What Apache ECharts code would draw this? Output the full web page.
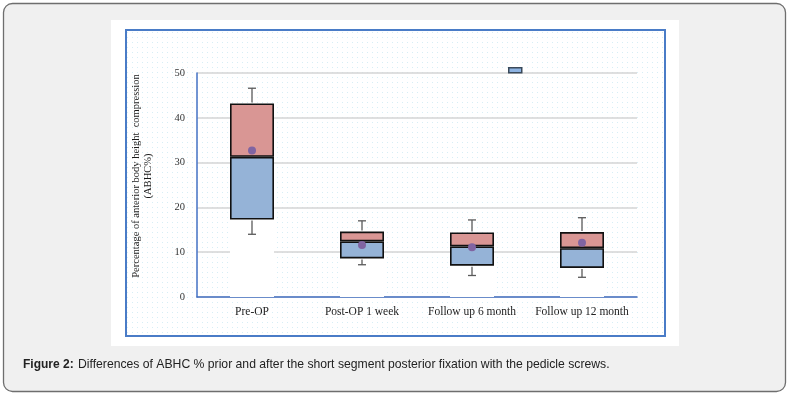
<!DOCTYPE html>
<html><head><meta charset="utf-8">
<script src="https://cdn.jsdelivr.net/npm/echarts@6/dist/echarts.min.js"></script>
<style>html,body{margin:0;padding:0;background:#fff}#c{width:790px;height:395px}</style>
</head><body><div id="c"></div>
<script>
const categories = ['Pre-OP', 'Post-OP 1 week', 'Follow up 6 month', 'Follow up 12 month'];
const minVals    = [14.0, 7.2, 4.8, 4.4];
const q1Vals     = [17.3, 8.6, 7.0, 6.5];
const medianVals = [31.3, 12.4, 11.3, 10.9];
const q3Vals     = [43.2, 14.6, 14.4, 14.5];
const maxVals    = [46.6, 17.0, 17.2, 17.7];
const meanVals   = [32.7, 11.6, 11.1, 12.1];
const yTicks = [0, 10, 20, 30, 40, 50];
const yTitle = 'Percentage of anterior body height  compression\n(ABHC%)';
const captionLabel = 'Figure 2:';
const caption = 'Differences of ABHC % prior and after the short segment posterior fixation with the pedicle screws.';

// dotted background pattern
const pc = document.createElement('canvas');
pc.width = 5; pc.height = 5;
const pctx = pc.getContext('2d');
pctx.fillStyle = '#ffffff'; pctx.fillRect(0,0,5,5);
pctx.fillStyle = '#d6eef6'; pctx.fillRect(2,2,1,1);

const chart = echarts.init(document.getElementById('c'));
const serif = '"Liberation Serif", "DejaVu Serif", serif';
const lowSeg = q1Vals.map((q,i)=>+(medianVals[i]-q).toFixed(2));
const upSeg = medianVals.map((m,i)=>+(q3Vals[i]-m).toFixed(2));

chart.setOption({
  animation: false,
  backgroundColor: '#ffffff',
  graphic: [
    {type:'rect', z:-100, shape:{x:3.5,y:3.5,width:782,height:388,r:9}, style:{fill:'#f0f0f0', stroke:'#6e6e6e', lineWidth:1.3}},
    {type:'rect', z:-99, shape:{x:111,y:20,width:568,height:326}, style:{fill:'#ffffff'}},
    {type:'rect', z:-98, shape:{x:126,y:30,width:539,height:306}, style:{fill:{image:pc, repeat:'repeat'}, stroke:'#4a7cc7', lineWidth:2}},
    {type:'text', x:142, y:176, rotation:Math.PI/2, z:10,
      style:{text:yTitle, font:'10.5px "Liberation Serif", serif', fill:'#1a1a1a', textAlign:'center', verticalAlign:'middle', lineHeight:12}},
    {type:'text', left:23, top:359, style:{text:captionLabel, font:'bold 12px "Liberation Sans", Arial, sans-serif', fill:'#222'}},
    {type:'text', left:78, top:359, style:{text:caption, font:'12.2px "Liberation Sans", Arial, sans-serif', fill:'#222'}}
  ],
  legend: {
    left: 503, top: 62, itemWidth: 13, itemHeight: 5, itemGap: 0,
    data: [{name:'Q1-Median', icon:'rect', itemStyle:{color:'#8db3e2', borderColor:'#3b4a5a', borderWidth:1.5}}],
    formatter: () => '', textStyle:{fontSize:1}
  },
  grid: {left:197, right:153, top:73, bottom:98},
  xAxis: {
    type:'category', data:categories,
    axisLine:{lineStyle:{color:'#4472c4', width:1.5}},
    axisTick:{show:false},
    axisLabel:{interval:0, fontFamily:serif, fontSize:11.5, color:'#222', margin:9},
    splitLine:{show:false}
  },
  yAxis: {
    type:'value', min:0, max:50, interval:10,
    axisLine:{show:true, lineStyle:{color:'#4472c4', width:1.5}},
    axisTick:{show:false},
    axisLabel:{fontFamily:serif, fontSize:10.5, color:'#333', margin:12, formatter:v=>yTicks.includes(v)?String(v):''},
    splitLine:{lineStyle:{color:'#d4d4d4', width:1.5}}
  },
  series: [
    {name:'base', type:'bar', stack:'b', barWidth:44, data:q1Vals, itemStyle:{color:'#ffffff'}, silent:true},
    {name:'Q1-Median', type:'bar', stack:'b', barWidth:44, data:lowSeg, itemStyle:{color:'#95b3d7', borderColor:'#111', borderWidth:1.6}},
    {name:'Median-Q3', type:'bar', stack:'b', barWidth:44, data:upSeg, itemStyle:{color:'#d99694', borderColor:'#111', borderWidth:1.6}},
    {name:'whisker', type:'custom', z:4,
      data: categories.map((c,i)=>[i, minVals[i], q1Vals[i], q3Vals[i], maxVals[i]]),
      encode:{x:0, y:[1,4]},
      renderItem:(params, api)=>{
        const i = api.value(0);
        const pMin = api.coord([i, api.value(1)]);
        const pQ1 = api.coord([i, api.value(2)]);
        const pQ3 = api.coord([i, api.value(3)]);
        const pMax = api.coord([i, api.value(4)]);
        const st = {stroke:'#5a5a5a', lineWidth:1.3};
        const x = Math.round(pMin[0]);
        return {type:'group', children:[
          {type:'line', shape:{x1:x,y1:pMin[1],x2:x,y2:pQ1[1]+1}, style:st},
          {type:'line', shape:{x1:x-4,y1:pMin[1],x2:x+4,y2:pMin[1]}, style:st},
          {type:'line', shape:{x1:x,y1:pMax[1],x2:x,y2:pQ3[1]-1}, style:st},
          {type:'line', shape:{x1:x-4,y1:pMax[1],x2:x+4,y2:pMax[1]}, style:st}
        ]};
      }
    },
    {name:'mean', type:'scatter', z:5, data:meanVals, symbolSize:8, itemStyle:{color:'#8064a2', opacity:1}}
  ]
});
</script></body></html>
